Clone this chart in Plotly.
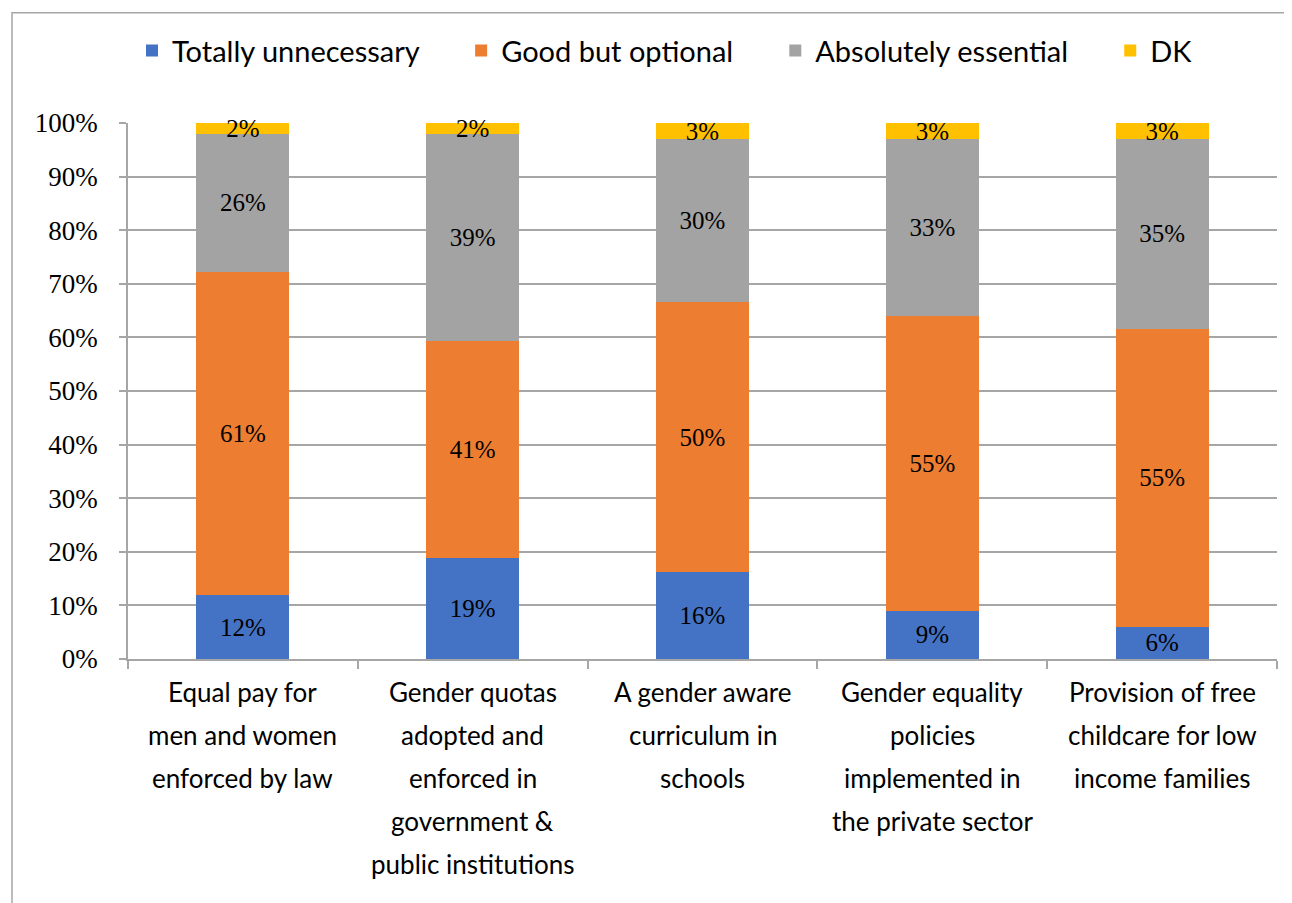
import plotly.graph_objects as go

categories = [
    "Equal pay for<br>men and women<br>enforced by law",
    "Gender quotas<br>adopted and<br>enforced in<br>government &amp;<br>public institutions",
    "A gender aware<br>curriculum in<br>schools",
    "Gender equality<br>policies<br>implemented in<br>the private sector",
    "Provision of free<br>childcare for low<br>income families",
]
series_names = ["Totally unnecessary", "Good but optional", "Absolutely essential", "DK"]
totally_unnecessary = [12, 19, 16, 9, 6]
good_but_optional = [61, 41, 50, 55, 55]
absolutely_essential = [26, 39, 30, 33, 35]
dk = [2, 2, 3, 3, 3]
y_tick_values = [0, 10, 20, 30, 40, 50, 60, 70, 80, 90, 100]
y_tick_labels = [f"{v}%" for v in y_tick_values]

colors = ["#4472C4", "#ED7D31", "#A3A3A3", "#FFC000"]
series = [totally_unnecessary, good_but_optional, absolutely_essential, dk]

PAD = "\u00a0" * 5  # extra spacing between legend entries

fig = go.Figure()
for name, vals, col in zip(series_names, series, colors):
    fig.add_trace(go.Bar(
        x=categories, y=vals, name=name + PAD,
        marker=dict(color=col, line=dict(width=0)),
        text=[f"{v}%" for v in vals],
        textposition="inside", insidetextanchor="middle",
        textfont=dict(family="Liberation Serif", size=25, color="black"),
        cliponaxis=False,
    ))

OFF = 8
W, H = 1284, 895
L, R, T, B = 128 - OFF, 15, 122.5 - OFF, 243.5
pw = W - L - R
ph = H - T - B

# category labels: one annotation per line so the line spacing matches
LINE_GAP = 43
FIRST_LINE = 693 - OFF
annotations = []
for cat in categories:
    for i, line in enumerate(cat.split("<br>")):
        yfig = FIRST_LINE + LINE_GAP * i
        annotations.append(dict(
            x=cat, xref="x", y=-(yfig - (T + ph)) / ph, yref="paper",
            text=line, showarrow=False, xanchor="center", yanchor="middle",
            font=dict(family="Lato", size=26, color="black"),
        ))

fig.update_layout(
    width=W, height=H,
    barmode="stack", barnorm="percent", bargap=0.595,
    plot_bgcolor="white", paper_bgcolor="white",
    margin=dict(l=L, r=R, t=T, b=B, autoexpand=False),
    uniformtext=dict(mode="show", minsize=25),
    legend=dict(
        orientation="h", x=(132 - OFF - L) / pw, xanchor="left",
        y=1 + (T - (50 - OFF)) / ph, yanchor="middle",
        font=dict(family="Lato", size=29, color="black"),
        traceorder="normal", itemsizing="constant",
        bgcolor="rgba(0,0,0,0)",
    ),
    showlegend=True,
    annotations=annotations,
    shapes=[dict(
        type="rect", xref="paper", yref="paper",
        x0=(12 - OFF - L) / pw, x1=(1295 - OFF - L) / pw,
        y0=1 + (T - (12 - OFF)) / ph, y1=-(905 - OFF - (T + ph)) / ph,
        line=dict(color="#A6A6A6", width=1.5), fillcolor="rgba(0,0,0,0)",
        layer="below",
    )],
)

fig.update_xaxes(
    showline=True, linecolor="#A6A6A6", linewidth=1.5,
    ticks="outside", tickson="boundaries", ticklen=8, tickcolor="#A6A6A6", tickwidth=1.5,
    showticklabels=False,
    showgrid=False,
)
fig.update_yaxes(
    range=[0, 100], tickvals=y_tick_values, ticktext=y_tick_labels,
    showline=True, linecolor="#A6A6A6", linewidth=1.5,
    ticks="outside", ticklen=7, tickcolor="#A6A6A6", tickwidth=1.5,
    showgrid=True, gridcolor="#A6A6A6", gridwidth=1.5,
    tickfont=dict(family="Liberation Serif", size=27, color="black"),
    ticklabelstandoff=16,
    zeroline=False,
)

fig.write_html("out.html")
